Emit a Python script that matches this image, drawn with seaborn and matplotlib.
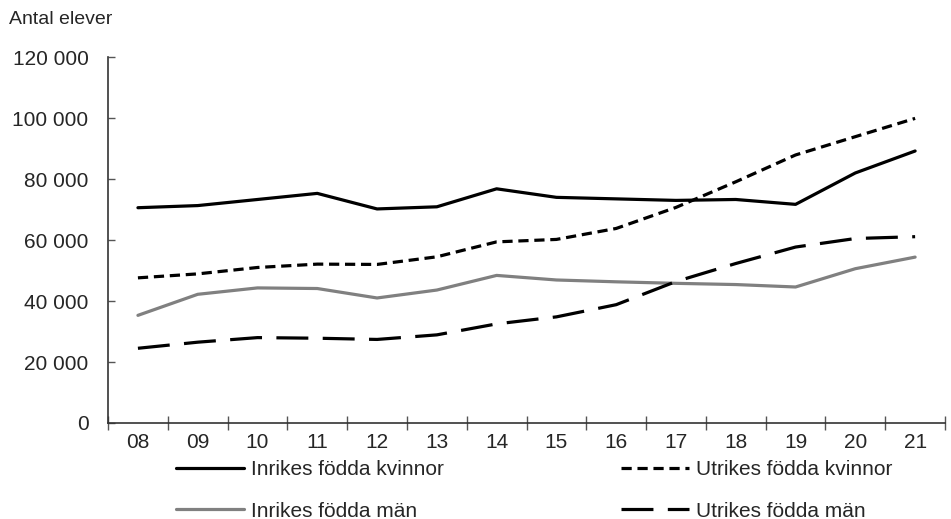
import matplotlib
matplotlib.use("Agg")
import matplotlib.pyplot as plt
import pandas as pd
import seaborn as sns
from matplotlib.ticker import FuncFormatter, FixedLocator

years = ["08", "09", "10", "11", "12", "13", "14", "15", "16", "17", "18", "19", "20", "21"]
inrikes_kvinnor = [70600, 71300, 73300, 75300, 70200, 70900, 76800, 74000, 73500, 73000, 73300, 71700, 82000, 89200]
utrikes_kvinnor = [47600, 48900, 51000, 52100, 52000, 54500, 59400, 60200, 63800, 70700, 79100, 87900, 93900, 99900]
inrikes_man = [35300, 42200, 44300, 44100, 41000, 43600, 48400, 46900, 46300, 45800, 45400, 44600, 50600, 54400]
utrikes_man = [24500, 26500, 28000, 27800, 27400, 28900, 32500, 34800, 38800, 46400, 52300, 57700, 60500, 61100]

series = {
    "Inrikes födda kvinnor": inrikes_kvinnor,
    "Inrikes födda män": inrikes_man,
    "Utrikes födda kvinnor": utrikes_kvinnor,
    "Utrikes födda män": utrikes_man,
}

df = pd.concat(
    [pd.DataFrame({"år": years, "antal": v, "serie": k}) for k, v in series.items()],
    ignore_index=True,
)

palette = {
    "Inrikes födda kvinnor": "#000000",
    "Inrikes födda män": "#808080",
    "Utrikes födda kvinnor": "#000000",
    "Utrikes födda män": "#000000",
}
dashes = {
    "Inrikes födda kvinnor": "",
    "Inrikes födda män": "",
    "Utrikes födda kvinnor": (3.2, 1.8),
    "Utrikes födda män": (10, 4.5),
}

sns.set_style("white")
plt.rcParams["font.family"] = ["Liberation Sans", "DejaVu Sans"]

fig, ax = plt.subplots(figsize=(9.51, 5.19), dpi=100)
fig.subplots_adjust(left=0.1136, right=0.9937, top=0.890, bottom=0.185)

sns.lineplot(
    data=df, x="år", y="antal", hue="serie", style="serie",
    palette=palette, dashes=dashes, linewidth=2.3, ax=ax, legend=True,
    sort=False,
)

ax.set_xlim(-0.5, len(years) - 0.5)
ax.set_ylim(0, 120000)
ax.set_yticks(range(0, 120001, 20000))
ax.yaxis.set_major_formatter(FuncFormatter(lambda v, p: f"{int(v):,}".replace(",", " ")))
ax.xaxis.set_minor_locator(FixedLocator([i + 0.5 for i in range(-1, len(years))]))
ax.tick_params(axis="both", which="both", bottom=True, left=True)
ax.tick_params(axis="x", which="major", length=0, pad=7, labelsize=15)
ax.tick_params(axis="x", which="minor", direction="inout", length=10, width=1, color="#555555")
ax.tick_params(axis="y", direction="in", length=5, width=1, color="#555555", labelsize=15, pad=14)
ax.set_xlabel("")
ax.set_ylabel("")
for s in ["top", "right"]:
    ax.spines[s].set_visible(False)
for s in ["left", "bottom"]:
    ax.spines[s].set_color("#333333")
    ax.spines[s].set_linewidth(1.2)

fig.text(0.009, 0.962, "Antal elever", fontsize=14, ha="left", va="center")

handles, labels = ax.get_legend_handles_labels()
ax.legend_.remove()
fig.legend(
    handles, labels, ncol=2, loc="upper left", bbox_to_anchor=(0.185, 0.114),
    frameon=False, fontsize=15, handlelength=3.27, handletextpad=0.33,
    columnspacing=8.5, labelspacing=1.1, borderaxespad=0, borderpad=0,
)

fig.savefig("out.png", dpi=100)
